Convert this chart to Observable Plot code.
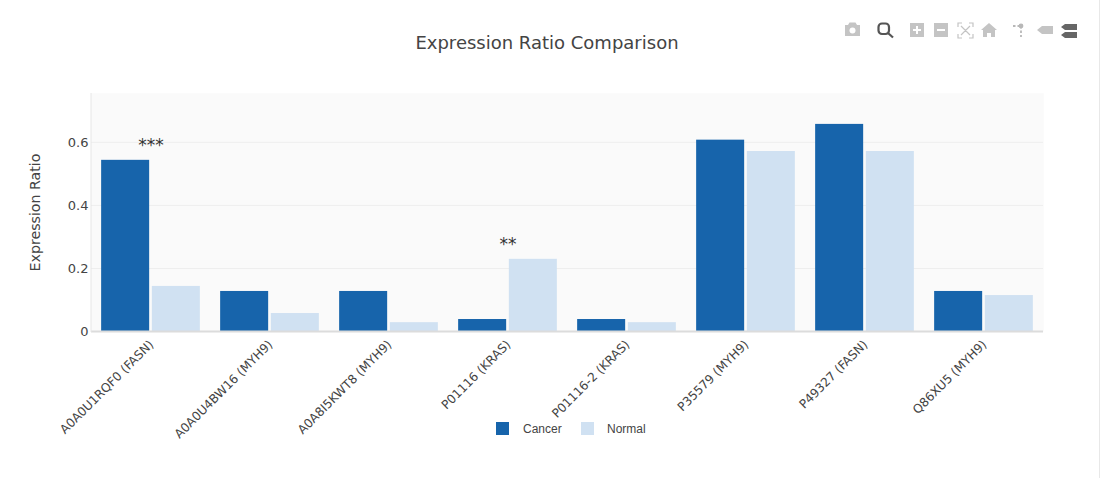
<!DOCTYPE html>
<html>
<head>
<meta charset="utf-8">
<script src="https://cdn.jsdelivr.net/npm/d3@7"></script>
<script src="https://cdn.jsdelivr.net/npm/@observablehq/plot@0.6"></script>
<style>
html,body{margin:0;padding:0;background:#fff;width:1100px;height:478px;overflow:hidden}
#wrap{position:relative;width:1100px;height:478px}
#title{position:absolute;left:0;width:1094px;top:32px;text-align:center;font:18px "DejaVu Sans",sans-serif;color:#444}
#legend{position:absolute;top:420px;left:0;font:12px "Liberation Sans",Arial,sans-serif;color:#444}
#legend i{position:absolute;top:2px;width:13px;height:13px;display:block}
#legend span{position:absolute;top:2px;white-space:nowrap}
#bar{position:absolute;right:0;top:0;width:1px;height:478px;background:#e8e8e8}
#tools{position:absolute;left:840px;top:20px}
svg{display:block}
</style>
</head>
<body>
<div id="wrap">
<div id="chart"></div>
<div id="title">Expression Ratio Comparison</div>
<div id="legend"></div>
<svg id="tools" width="245" height="22" viewBox="0 0 245 22">
  <g fill="#c4c4c4" stroke="none">
    <path d="M5 5h3l1.5-2.5h6L17 5h3v11H5z"/><circle cx="12.5" cy="10.5" r="3" fill="#fff"/>
    <rect x="70" y="3" width="14" height="14"/><path d="M76 6h2v3h3v2h-3v3h-2v-3h-3V9h3z" fill="#fff"/>
    <rect x="94" y="3" width="14" height="14"/><rect x="97" y="9" width="8" height="2" fill="#fff"/>
    <path d="M149 3l8 7h-2v7h-4v-4h-4v4h-4v-7h-2z"/>
    <path d="M197 10l5-4h11v8h-11z"/>
  </g>
  <g fill="none" stroke="#555" stroke-width="2.2"><rect x="38.5" y="3.5" width="10.5" height="10.5" rx="3.5"/><path d="M48 13l5 4.5"/></g>
  <g fill="none" stroke="#c4c4c4" stroke-width="1.2">
    <path d="M118 7V3h4M129 3h4v4M118 14v4h4M133 14v4h-4M121 6l9 9M130 6l-9 9"/>
  </g>
  <g fill="none" stroke="#b8b8b8" stroke-width="1.8">
    <path d="M173 6h7" stroke-dasharray="2.5 2"/><path d="M181 6v11" stroke-dasharray="2.5 2"/>
  </g>
  <circle cx="181" cy="6" r="2.4" fill="#b8b8b8"/>
  <g fill="#666"><path d="M221 7l4-3h12v6h-12zM221 15l4-3h12v6h-12z"/></g>
</svg>
<div id="bar"></div>
</div>
<script>
const categories = ["A0A0U1RQF0 (FASN)","A0A0U4BW16 (MYH9)","A0A8I5KWT8 (MYH9)","P01116 (KRAS)","P01116-2 (KRAS)","P35579 (MYH9)","P49327 (FASN)","Q86XU5 (MYH9)"];
const cancer = [0.543,0.127,0.127,0.038,0.038,0.607,0.657,0.127];
const normal = [0.143,0.057,0.028,0.229,0.028,0.571,0.571,0.114];
const groups = ["Cancer","Normal"];
const colors = ["#1764ab","#d0e1f2"];
const sigCategories = ["A0A0U1RQF0 (FASN)","P01116 (KRAS)"];
const sigLabels = ["***","**"];
const sigValues = [0.591,0.276];
const yTicks = [0,0.2,0.4,0.6];

const rows = categories.flatMap((c,i)=>[
  {cat:c,group:groups[0],value:cancer[i]},
  {cat:c,group:groups[1],value:normal[i]}
]);
const sig = sigCategories.map((c,i)=>({cat:c,label:sigLabels[i],value:sigValues[i]}));

const plot = Plot.plot({
  width:1100,height:478,
  marginLeft:91,marginRight:57,marginTop:93,marginBottom:147,
  style:{fontFamily:'"DejaVu Sans",sans-serif',background:"transparent",color:"#444"},
  fx:{domain:categories,padding:0,round:false,label:null},
  x:{domain:groups,paddingInner:0.053,paddingOuter:0.2,round:false,axis:null},
  y:{domain:[0,0.755],label:null},
  color:{domain:groups,range:colors},
  marks:[
    Plot.frame({fill:"#fafafa",stroke:"#fafafa",strokeWidth:0.5}),
    Plot.gridY(yTicks.slice(1),{stroke:"#eeeeee",strokeOpacity:1}),
    Plot.barY(rows,{fx:"cat",x:"group",y:"value",fill:"group"}),
    Plot.ruleY([0],{stroke:"#dcdcdc",strokeWidth:2}),
    Plot.frame({anchor:"left",facetAnchor:"left",stroke:"#e6e6e6",dx:-0.5}),
    Plot.text(sig,{fx:"cat",y:"value",text:"label",fontSize:17,fill:"#333"}),
    Plot.axisY(yTicks,{anchor:"left",tickSize:0,tickPadding:3,fontSize:13,fill:"#444",
      tickFormat:d=>d===0?"0":d3.format(".1f")(d),
      label:"Expression Ratio",labelAnchor:"center",labelArrow:"none",labelOffset:62}),
    Plot.axisFx({anchor:"bottom",tickSize:0,tickRotate:-45,tickPadding:9,fontSize:12.2,fill:"#444",textAnchor:"end",label:null,dx:0.5,dy:2})
  ]
});
document.getElementById("chart").append(plot);
// the y-axis title is larger than the tick labels
plot.querySelectorAll("text").forEach(t=>{
  if (t.textContent==="Expression Ratio") t.setAttribute("font-size","14.2");
});

const legend = document.getElementById("legend");
const swatchLeft = [496,581], textLeft = [523,607];
groups.forEach((g,i)=>{
  const sw=document.createElement("i");
  sw.style.left=swatchLeft[i]+"px";sw.style.background=colors[i];
  const t=document.createElement("span");
  t.style.left=textLeft[i]+"px";t.textContent=g;
  legend.append(sw,t);
});
</script>
</body>
</html>
